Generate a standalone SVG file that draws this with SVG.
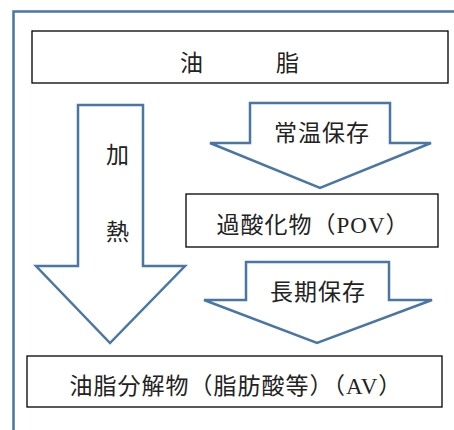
<svg xmlns="http://www.w3.org/2000/svg" width="454" height="430" viewBox="0 0 454 430">
<style>
.frame{fill:none;stroke:#4a76a6;stroke-width:2.5}
.arrow{fill:#fff;stroke:#4a76a6;stroke-width:2.5;stroke-linejoin:miter}
.box{fill:#fff;stroke:#000;stroke-width:1.3}
.t{font-family:"Liberation Serif","Noto Sans CJK JP",serif;font-size:23px;letter-spacing:1px;fill:#222;text-anchor:middle;dominant-baseline:central}
</style>
<rect width="454" height="430" fill="#fff"/>
<rect class="frame" x="13.5" y="11.5" width="470" height="450"/>
<g id="connectors">
<g id="arrow-heat">
<polygon class="arrow" points="78,105 143,105 143,266 185,266 110,343 36,266 78,266"/>
<text class="t" x="118" y="155">加</text>
<text class="t" x="118" y="232">熱</text>
</g>
<g id="arrow-room">
<polygon class="arrow" points="250,103 390,103 390,143 431,143 320,188 210,143 250,143"/>
<text class="t" x="322" y="133">常温保存</text>
</g>
<g id="arrow-long">
<polygon class="arrow" points="246,262 389,262 389,300 432,300 317,343 204,300 246,300"/>
<text class="t" x="318" y="292">長期保存</text>
</g>
</g>
<g id="node-oil">
<rect class="box" x="32" y="31" width="416" height="52"/>
<text class="t" x="240" y="63">油　　　脂</text>
</g>
<g id="node-pov">
<rect class="box" x="186" y="194" width="252" height="53"/>
<text class="t" x="313" y="225">過酸化物（POV）</text>
</g>
<g id="node-av">
<rect class="box" x="27" y="356" width="415" height="51"/>
<text class="t" x="236" y="386">油脂分解物（脂肪酸等）（AV）</text>
</g>
</svg>
